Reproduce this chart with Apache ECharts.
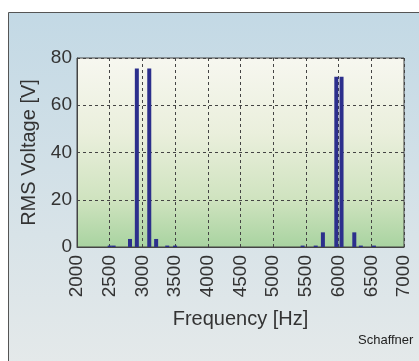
<!DOCTYPE html>
<html>
<head>
<meta charset="utf-8">
<script src="https://cdn.jsdelivr.net/npm/echarts@6/dist/echarts.min.js"></script>
<style>
html, body { margin: 0; padding: 0; background: #fff; }
#chart { width: 419px; height: 361px; }
</style>
</head>
<body>
<div id="chart"></div>
<script>
// spectrum lines
const freqs = [2500, 2560, 2810, 2915, 3105, 3210, 3380, 3500, 5450, 5650, 5760, 5965, 6045, 6240, 6340, 6540]
const volts = [0.6, 0.6, 3.4, 75.6, 75.6, 3.4, 0.6, 0.6, 0.6, 0.6, 6.2, 72.1, 72.1, 6.2, 0.6, 0.6]
const xTicks = [2000, 7000, 500]
const yTicks = [0, 80, 20]

const font = "Liberation Sans, Arial, Helvetica, sans-serif"
const ink = "#333"

const plotBg = {
	type: "linear", x: 0, y: 0, x2: 0, y2: 1,
	colorStops: [
		{ offset: 0, color: "#f7f7f0" },
		{ offset: 0.4, color: "#eaefdc" },
		{ offset: 0.75, color: "#cfe3bf" },
		{ offset: 1, color: "#a8d3a0" }
	]
}
const pageBg = {
	type: "linear", x: 0, y: 0, x2: 0, y2: 1,
	colorStops: [
		{ offset: 0, color: "#c3d9e5" },
		{ offset: 0.6, color: "#d8e3e8" },
		{ offset: 1, color: "#e6eaea" }
	]
}

let chart = echarts.init(document.getElementById("chart"))

let option = {
	animation: false,
	backgroundColor: "#ffffff",
	graphic: [
		{
			type: "rect",
			z: -10,
			shape: { x: 8.5, y: 12.5, width: 430, height: 370 },
			style: { fill: pageBg, stroke: "#555", lineWidth: 1 }
		},
		{
			type: "text",
			left: 358,
			top: 334,
			style: { text: "Schaffner", fontSize: 13, fontFamily: font, fill: "#222" }
		}
	],
	grid: {
		left: 77,
		top: 58,
		right: 15,
		bottom: 114,
		show: true,
		backgroundColor: plotBg,
		borderColor: "#444",
		borderWidth: 1
	},
	xAxis: {
		type: "value",
		min: xTicks[0],
		max: xTicks[1],
		interval: xTicks[2],
		name: "Frequency [Hz]",
		nameLocation: "middle",
		nameGap: 62,
		nameTextStyle: { fontSize: 20, fontFamily: font, color: ink },
		axisLine: { show: true, onZero: false, lineStyle: { color: "#444" } },
		axisTick: { show: false },
		axisLabel: { rotate: 90, fontSize: 19, fontFamily: font, color: ink, margin: 8, formatter: v => String(v) },
		splitLine: { show: true, lineStyle: { type: [3, 3], color: "#444", width: 1 } }
	},
	yAxis: {
		type: "value",
		min: yTicks[0],
		max: yTicks[1],
		interval: yTicks[2],
		name: "RMS Voltage [V]",
		nameLocation: "middle",
		nameRotate: 90,
		nameGap: 33,
		nameTextStyle: { fontSize: 20, fontFamily: font, color: ink },
		axisLine: { show: true, lineStyle: { color: "#444" } },
		axisTick: { show: false },
		axisLabel: { fontSize: 19, fontFamily: font, color: ink, margin: 5 },
		splitLine: { show: true, lineStyle: { type: [3, 3], color: "#444", width: 1 } }
	},
	series: [
		{
			type: "bar",
			barWidth: 4,
			itemStyle: { color: "#2c2f8c" },
			data: freqs.map((f, i) => [f, volts[i]])
		}
	]
}

chart.setOption(option)
</script>
</body>
</html>
